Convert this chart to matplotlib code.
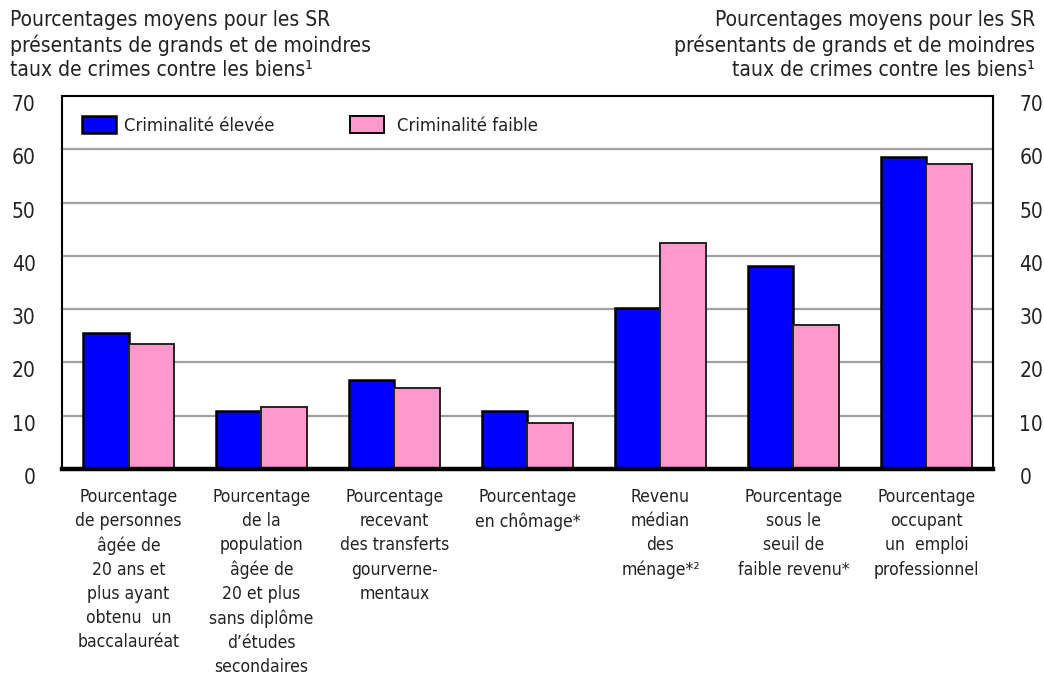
import matplotlib
matplotlib.use("Agg")
import matplotlib.pyplot as plt
from matplotlib.patches import Patch
from matplotlib.transforms import ScaledTranslation
from matplotlib import font_manager as fm
import numpy as np

categories = [
    "Pourcentage\nde personnes\nâgée de\n20 ans et\nplus ayant\nobtenu  un\nbaccalauréat",
    "Pourcentage\nde la\npopulation\nâgée de\n20 et plus\nsans diplôme\nd\u2019études\nsecondaires",
    "Pourcentage\nrecevant\ndes transferts\ngourverne-\nmentaux",
    "Pourcentage\nen chômage*",
    "Revenu\nmédian\ndes\nménage*²",
    "Pourcentage\nsous le\nseuil de\nfaible revenu*",
    "Pourcentage\noccupant\nun  emploi\nprofessionnel",
]
high_crime = [25.6, 10.8, 16.7, 10.9, 30.3, 38.1, 58.5]
low_crime = [23.4, 11.6, 15.2, 8.6, 42.5, 27.1, 57.3]
series_names = ["Criminalité élevée", "Criminalité faible"]
yticks = [0, 10, 20, 30, 40, 50, 60, 70]
title_text = "Pourcentages moyens pour les SR\nprésentants de grands et de moindres\ntaux de crimes contre les biens¹"

# look for a condensed face among installed fonts
cond_path = None
for f in fm.fontManager.ttflist:
    st = f.stretch
    is_cond = ("Narrow" in f.name or "Condensed" in f.name or
               (isinstance(st, str) and "condensed" in st) or
               (isinstance(st, (int, float)) and st < 500))
    if is_cond and f.style == "normal" and f.weight in (400, "normal", "regular", "book"):
        if "semi" in str(st).lower() or "extra" in str(st).lower():
            continue
        cond_path = f.fname
        break


def fp(size):
    if cond_path:
        return fm.FontProperties(fname=cond_path, size=size)
    return fm.FontProperties(family=["Liberation Sans", "DejaVu Sans"], size=size)


TXT = "#222222"
BLUE = "#0000ff"
PINK = "#ff99cc"

fig = plt.figure(figsize=(10.44, 6.75), dpi=100)
ax = fig.add_axes([62/1044, 1-469/675, 931/1044, 373/675])

x = np.arange(len(categories))
w = 0.345
ax.bar(x - w/2, high_crime, width=w, color=BLUE, edgecolor="black", linewidth=1.8, zorder=3)
ax.bar(x + w/2, low_crime, width=w, color=PINK, edgecolor="#222222", linewidth=1.4, zorder=3)

ax.set_xlim(-0.5, len(categories) - 0.5)
ax.set_ylim(0, 70)
ax.set_yticks(yticks)
ax.set_yticklabels([str(v) for v in yticks])
for v in yticks[1:-1]:
    ax.axhline(v, color="#a0a0a0", linewidth=1.6, zorder=1)

for s in ["left", "right", "top"]:
    ax.spines[s].set_linewidth(1.5)
    ax.spines[s].set_color("black")
ax.spines["bottom"].set_linewidth(3.2)
ax.spines["bottom"].set_zorder(5)

ax.tick_params(axis="y", length=0, pad=19, labelcolor=TXT,
               left=False, right=False, labelleft=True, labelright=True)
off = ScaledTranslation(0, -0.07, fig.dpi_scale_trans)
seen = set()
for t in ax.yaxis.get_major_ticks():
    for lab in (t.label1, t.label2):
        if id(lab) in seen:
            continue
        seen.add(id(lab))
        lab.set_fontproperties(fp(15))
        lab.set_transform(lab.get_transform() + off)

ax.set_xticks(x)
ax.set_xticklabels(categories, color=TXT, linespacing=1.43, va="top")
for lab in ax.get_xticklabels():
    lab.set_fontproperties(fp(12.6))
ax.tick_params(axis="x", length=0, pad=14)

h1 = Patch(facecolor=BLUE, edgecolor="black", linewidth=1.8)
h2 = Patch(facecolor=PINK, edgecolor="black", linewidth=1.4)
leg_kw = dict(loc="center left", frameon=False, borderpad=0, borderaxespad=0,
              handlelength=1.83, handleheight=1.1,
              prop=fp(13.2), labelcolor=TXT)
leg1 = ax.legend([h1], [series_names[0]], bbox_to_anchor=(20/931, 0.922),
                 handletextpad=0.45, **leg_kw)
ax.add_artist(leg1)
ax.legend([h2], [series_names[1]], bbox_to_anchor=(288/931, 0.922),
          handletextpad=0.75, **leg_kw)

fig.text(10/1044, 1-10/675, title_text, ha="left", va="top", fontproperties=fp(15),
         color=TXT, linespacing=1.25)
fig.text(1035/1044, 1-10/675, title_text, ha="right", va="top", fontproperties=fp(15),
         color=TXT, linespacing=1.25, multialignment="right")

fig.savefig("out.png", dpi=100)
